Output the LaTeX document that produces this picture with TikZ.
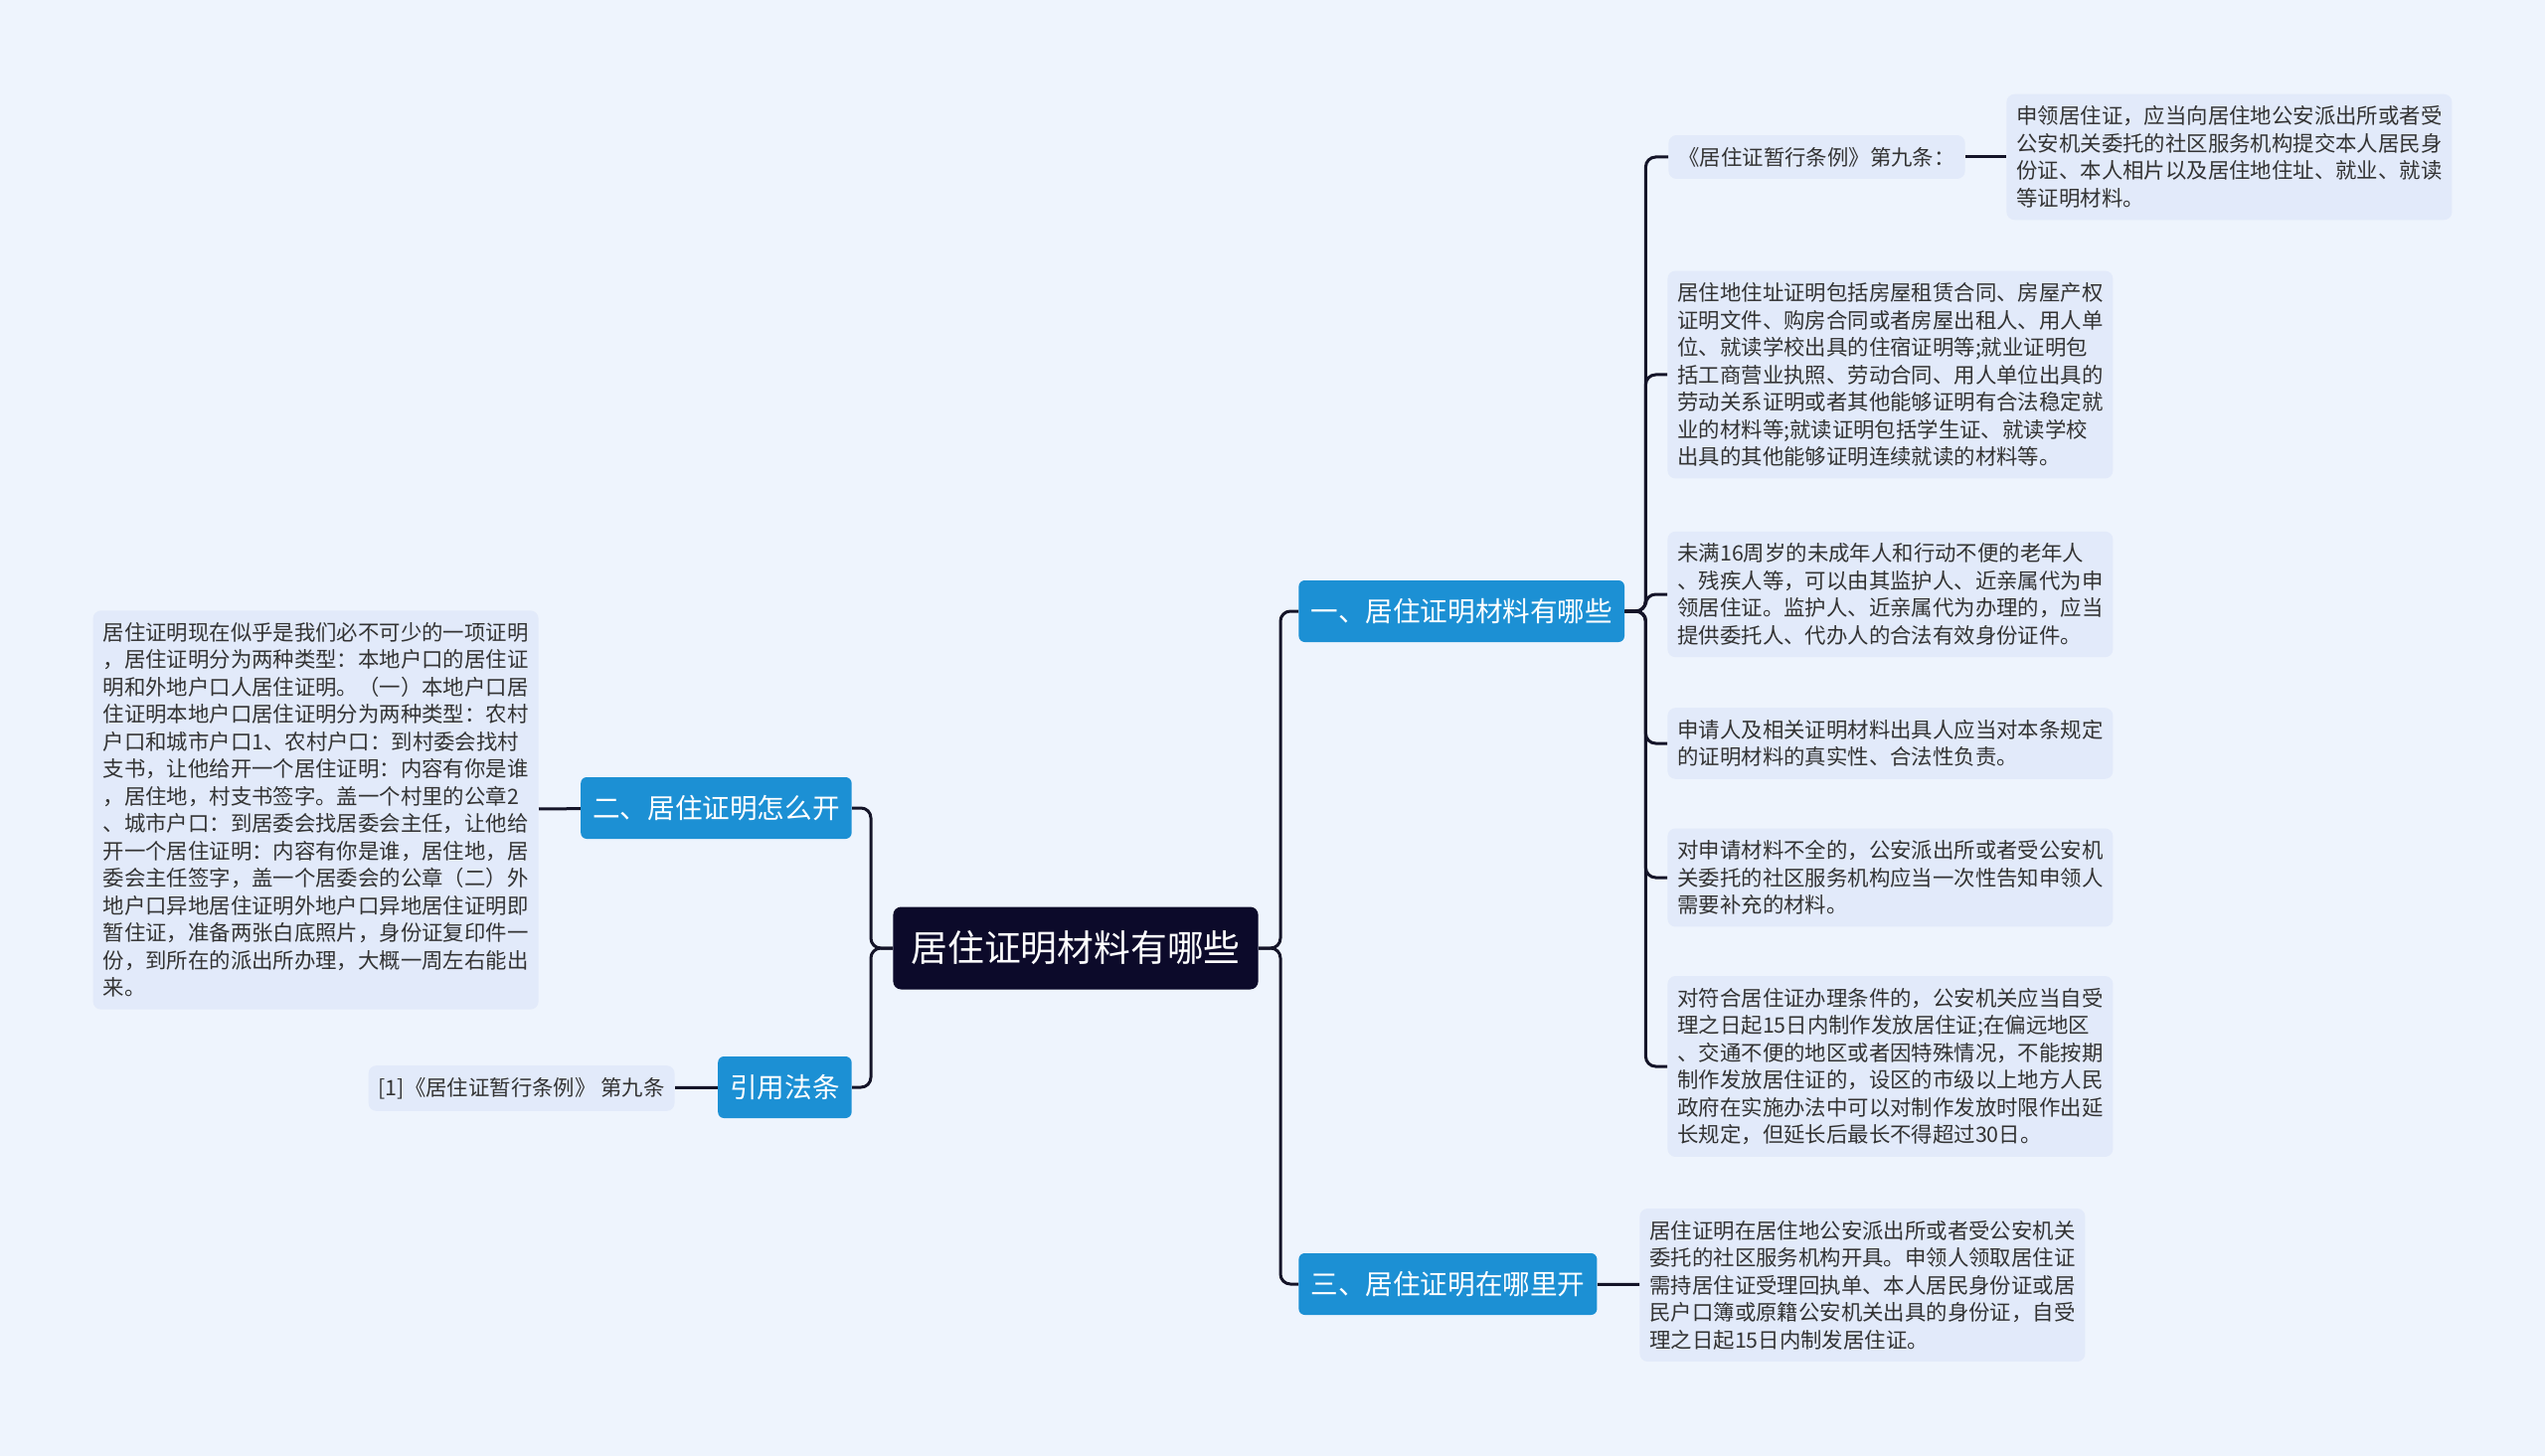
\documentclass[tikz,border=0pt]{standalone}
\usepackage{fontspec}
\newfontfamily\cjk{Noto Sans CJK SC}
\usepackage{tikz}
\usetikzlibrary{positioning}

\definecolor{bgc}{RGB}{238,244,253}
\definecolor{leafc}{RGB}{226,234,250}
\definecolor{branchc}{RGB}{28,144,212}
\definecolor{rootc}{RGB}{12,10,42}
\definecolor{linkc}{RGB}{20,20,40}
\definecolor{txtc}{RGB}{51,51,51}

\begin{document}
\begin{tikzpicture}[
    x=0.5pt, y=-0.5pt,
    root/.style={fill=rootc, text=white, rounded corners=4pt, inner xsep=9pt,
      minimum height=41.5pt, font=\cjk\fontsize{18.4}{22}\selectfont},
    branch/.style={fill=branchc, text=white, rounded corners=3pt, inner xsep=6pt,
      minimum height=31pt, font=\cjk\fontsize{13.8}{17}\selectfont},
    leaf/.style={fill=leafc, text=txtc, rounded corners=4pt, inner xsep=5pt,
      inner ysep=6pt, align=left, font=\cjk\fontsize{10.7}{13.75}\selectfont},
    para/.style={leaf, text width=214pt},
    link/.style={draw=linkc, line width=1.5pt, rounded corners=5pt}
  ]
    \fill[bgc] (0,0) rectangle (2560,1465);

    \node[root] (root) at (1082,954) {居住证明材料有哪些};

    \node[branch, anchor=west] (what) at (1306,615) {一、居住证明材料有哪些};
    \node[branch, anchor=west] (where) at (1306,1292) {三、居住证明在哪里开};
    \node[branch, anchor=east] (how) at (857,813) {二、居住证明怎么开};
    \node[branch, anchor=east] (law) at (857,1094) {引用法条};

    \node[leaf, anchor=west] (art) at (1678,158) {《居住证暂行条例》第九条：};
    \node[para, anchor=west] (artx) at (2018,158) {申领居住证，应当向居住地公安派出所或者受\\
    公安机关委托的社区服务机构提交本人居民身\\
    份证、本人相片以及居住地住址、就业、就读\\
    等证明材料。};
    \node[para, anchor=west] (addr) at (1677,377) {居住地住址证明包括房屋租赁合同、房屋产权\\
    证明文件、购房合同或者房屋出租人、用人单\\
    位、就读学校出具的住宿证明等;就业证明包\\
    括工商营业执照、劳动合同、用人单位出具的\\
    劳动关系证明或者其他能够证明有合法稳定就\\
    业的材料等;就读证明包括学生证、就读学校\\
    出具的其他能够证明连续就读的材料等。};
    \node[para, anchor=west] (minor) at (1677,598) {未满16周岁的未成年人和行动不便的老年人\\
    、残疾人等，可以由其监护人、近亲属代为申\\
    领居住证。监护人、近亲属代为办理的，应当\\
    提供委托人、代办人的合法有效身份证件。};
    \node[para, anchor=west] (resp) at (1677,748) {申请人及相关证明材料出具人应当对本条规定\\
    的证明材料的真实性、合法性负责。};
    \node[para, anchor=west] (miss) at (1677,883) {对申请材料不全的，公安派出所或者受公安机\\
    关委托的社区服务机构应当一次性告知申领人\\
    需要补充的材料。};
    \node[para, anchor=west] (days) at (1677,1073) {对符合居住证办理条件的，公安机关应当自受\\
    理之日起15日内制作发放居住证;在偏远地区\\
    、交通不便的地区或者因特殊情况，不能按期\\
    制作发放居住证的，设区的市级以上地方人民\\
    政府在实施办法中可以对制作发放时限作出延\\
    长规定，但延长后最长不得超过30日。};

    \node[para, anchor=west] (office) at (1649,1293) {居住证明在居住地公安派出所或者受公安机关\\
    委托的社区服务机构开具。申领人领取居住证\\
    需持居住证受理回执单、本人居民身份证或居\\
    民户口簿或原籍公安机关出具的身份证，自受\\
    理之日起15日内制发居住证。};

    \node[para, anchor=east] (steps) at (542,815) {居住证明现在似乎是我们必不可少的一项证明\\
    ，居住证明分为两种类型：本地户口的居住证\\
    明和外地户口人居住证明。（一）本地户口居\\
    住证明本地户口居住证明分为两种类型：农村\\
    户口和城市户口1、农村户口：到村委会找村\\
    支书，让他给开一个居住证明：内容有你是谁\\
    ，居住地，村支书签字。盖一个村里的公章2\\
    、城市户口：到居委会找居委会主任，让他给\\
    开一个居住证明：内容有你是谁，居住地，居\\
    委会主任签字，盖一个居委会的公章（二）外\\
    地户口异地居住证明外地户口异地居住证明即\\
    暂住证，准备两张白底照片，身份证复印件一\\
    份，到所在的派出所办理，大概一周左右能出\\
    来。};
    \node[leaf, anchor=east] (ref) at (679,1095) {[1]《居住证暂行条例》 第九条};

    \draw[link] (root.east) -- ++(22,0) |- (what.west);
    \draw[link] (root.east) -- ++(22,0) |- (where.west);
    \draw[link] (root.west) -- ++(-22,0) |- (how.east);
    \draw[link] (root.west) -- ++(-22,0) |- (law.east);

    \foreach \n in {art,addr,minor,resp,miss,days}
      \draw[link] (what.east) -- ++(21,0) |- (\n.west);
    \draw[link] (art) -- (artx);
    \draw[link] (where) -- (office);
    \draw[link] (how) -- (steps);
    \draw[link] (law) -- (ref);
  \end{tikzpicture}
\end{document}
